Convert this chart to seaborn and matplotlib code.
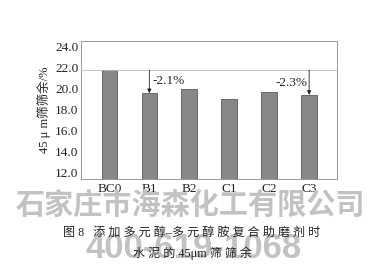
import matplotlib
matplotlib.use("Agg")
import matplotlib.pyplot as plt
import seaborn as sns
import pandas as pd

categories = ["BC0", "B1", "B2", "C1", "C2", "C3"]
residue = [21.77, 19.55, 19.93, 19.00, 19.70, 19.39]
yticks = [12.0, 14.0, 16.0, 18.0, 20.0, 22.0, 24.0]
annot_labels = ["-2.1%", "-2.3%"]
annot_targets = ["B1", "C3"]

sns.set_theme(style="white")
SERIF = ["Liberation Serif", "Noto Sans CJK SC", "DejaVu Sans"]
plt.rcParams["font.family"] = SERIF

df = pd.DataFrame({"cat": categories, "val": residue})

fig = plt.figure(figsize=(3.75, 2.66), dpi=100)
ax = fig.add_axes([0.216, 0.326, 0.683, 0.521])

sns.barplot(data=df, x="cat", y="val", ax=ax, color="#888888",
            edgecolor="#5a5a5a", linewidth=0.6, width=0.39, saturation=1)

ax.set_xlim(-0.71, 5.7)
ax.set_ylim(11.33, 24.57)
ax.set_yticks(yticks)
ax.set_yticklabels([f"{t:.1f}" for t in yticks], fontsize=9.5, color="#222222")
ax.set_xticks(range(len(categories)))
ax.set_xticklabels(categories, fontsize=9.5, color="#222222")
ax.tick_params(axis="y", direction="in", length=2.5, width=0.6, color="#888888", pad=2)
ax.tick_params(axis="x", length=0, pad=3)
ax.set_xlabel("")
ax.set_ylabel("45 μ m筛筛余/%", fontsize=9, color="#222222", labelpad=3,
              family=["Liberation Serif", "Noto Sans CJK SC"])
for s in ax.spines.values():
    s.set_color("#999999")
    s.set_linewidth(0.7)

base = residue[0]
ax.axhline(base, color="#bbbbbb", lw=0.6, zorder=1)

for lab, tgt in zip(annot_labels, annot_targets):
    i = categories.index(tgt)
    ax.annotate("", xy=(i, residue[i]), xytext=(i, base),
                arrowprops=dict(arrowstyle="-|>", color="#222222", lw=0.6,
                                mutation_scale=6, shrinkA=0, shrinkB=0))
ax.text(1.09, 20.75, annot_labels[0], fontsize=9.5, ha="left", va="center", color="#222222")
ax.text(4.965, 20.56, annot_labels[1], fontsize=9.5, ha="right", va="center", color="#222222")

# watermark
fig.text(0.507, 0.229, "石家庄市海森化工有限公司", fontsize=21, weight="bold",
         color="#c2c2c2", ha="center", va="center", family=["Noto Sans CJK SC"], zorder=0)
fig.text(0.517, 0.065, "400-619-1068", fontsize=25, weight="bold",
         color="#c2c2c2", ha="center", va="center", family=["Liberation Sans"], zorder=0)

# caption
cap1 = "图 8   " + " ".join("添加多元醇") + "–" + " ".join("多元醇胺复合助磨剂时")
fig.text(0.512, 1 - 232.7 / 266, cap1, fontsize=8.7, color="#222222",
         ha="center", va="center", zorder=5)
cap2 = "水 泥 的 45μm 筛 筛 余"
fig.text(0.513, 1 - 253 / 266, cap2, fontsize=8.7, color="#222222",
         ha="center", va="center", zorder=5)

fig.savefig("out.png", dpi=100)
